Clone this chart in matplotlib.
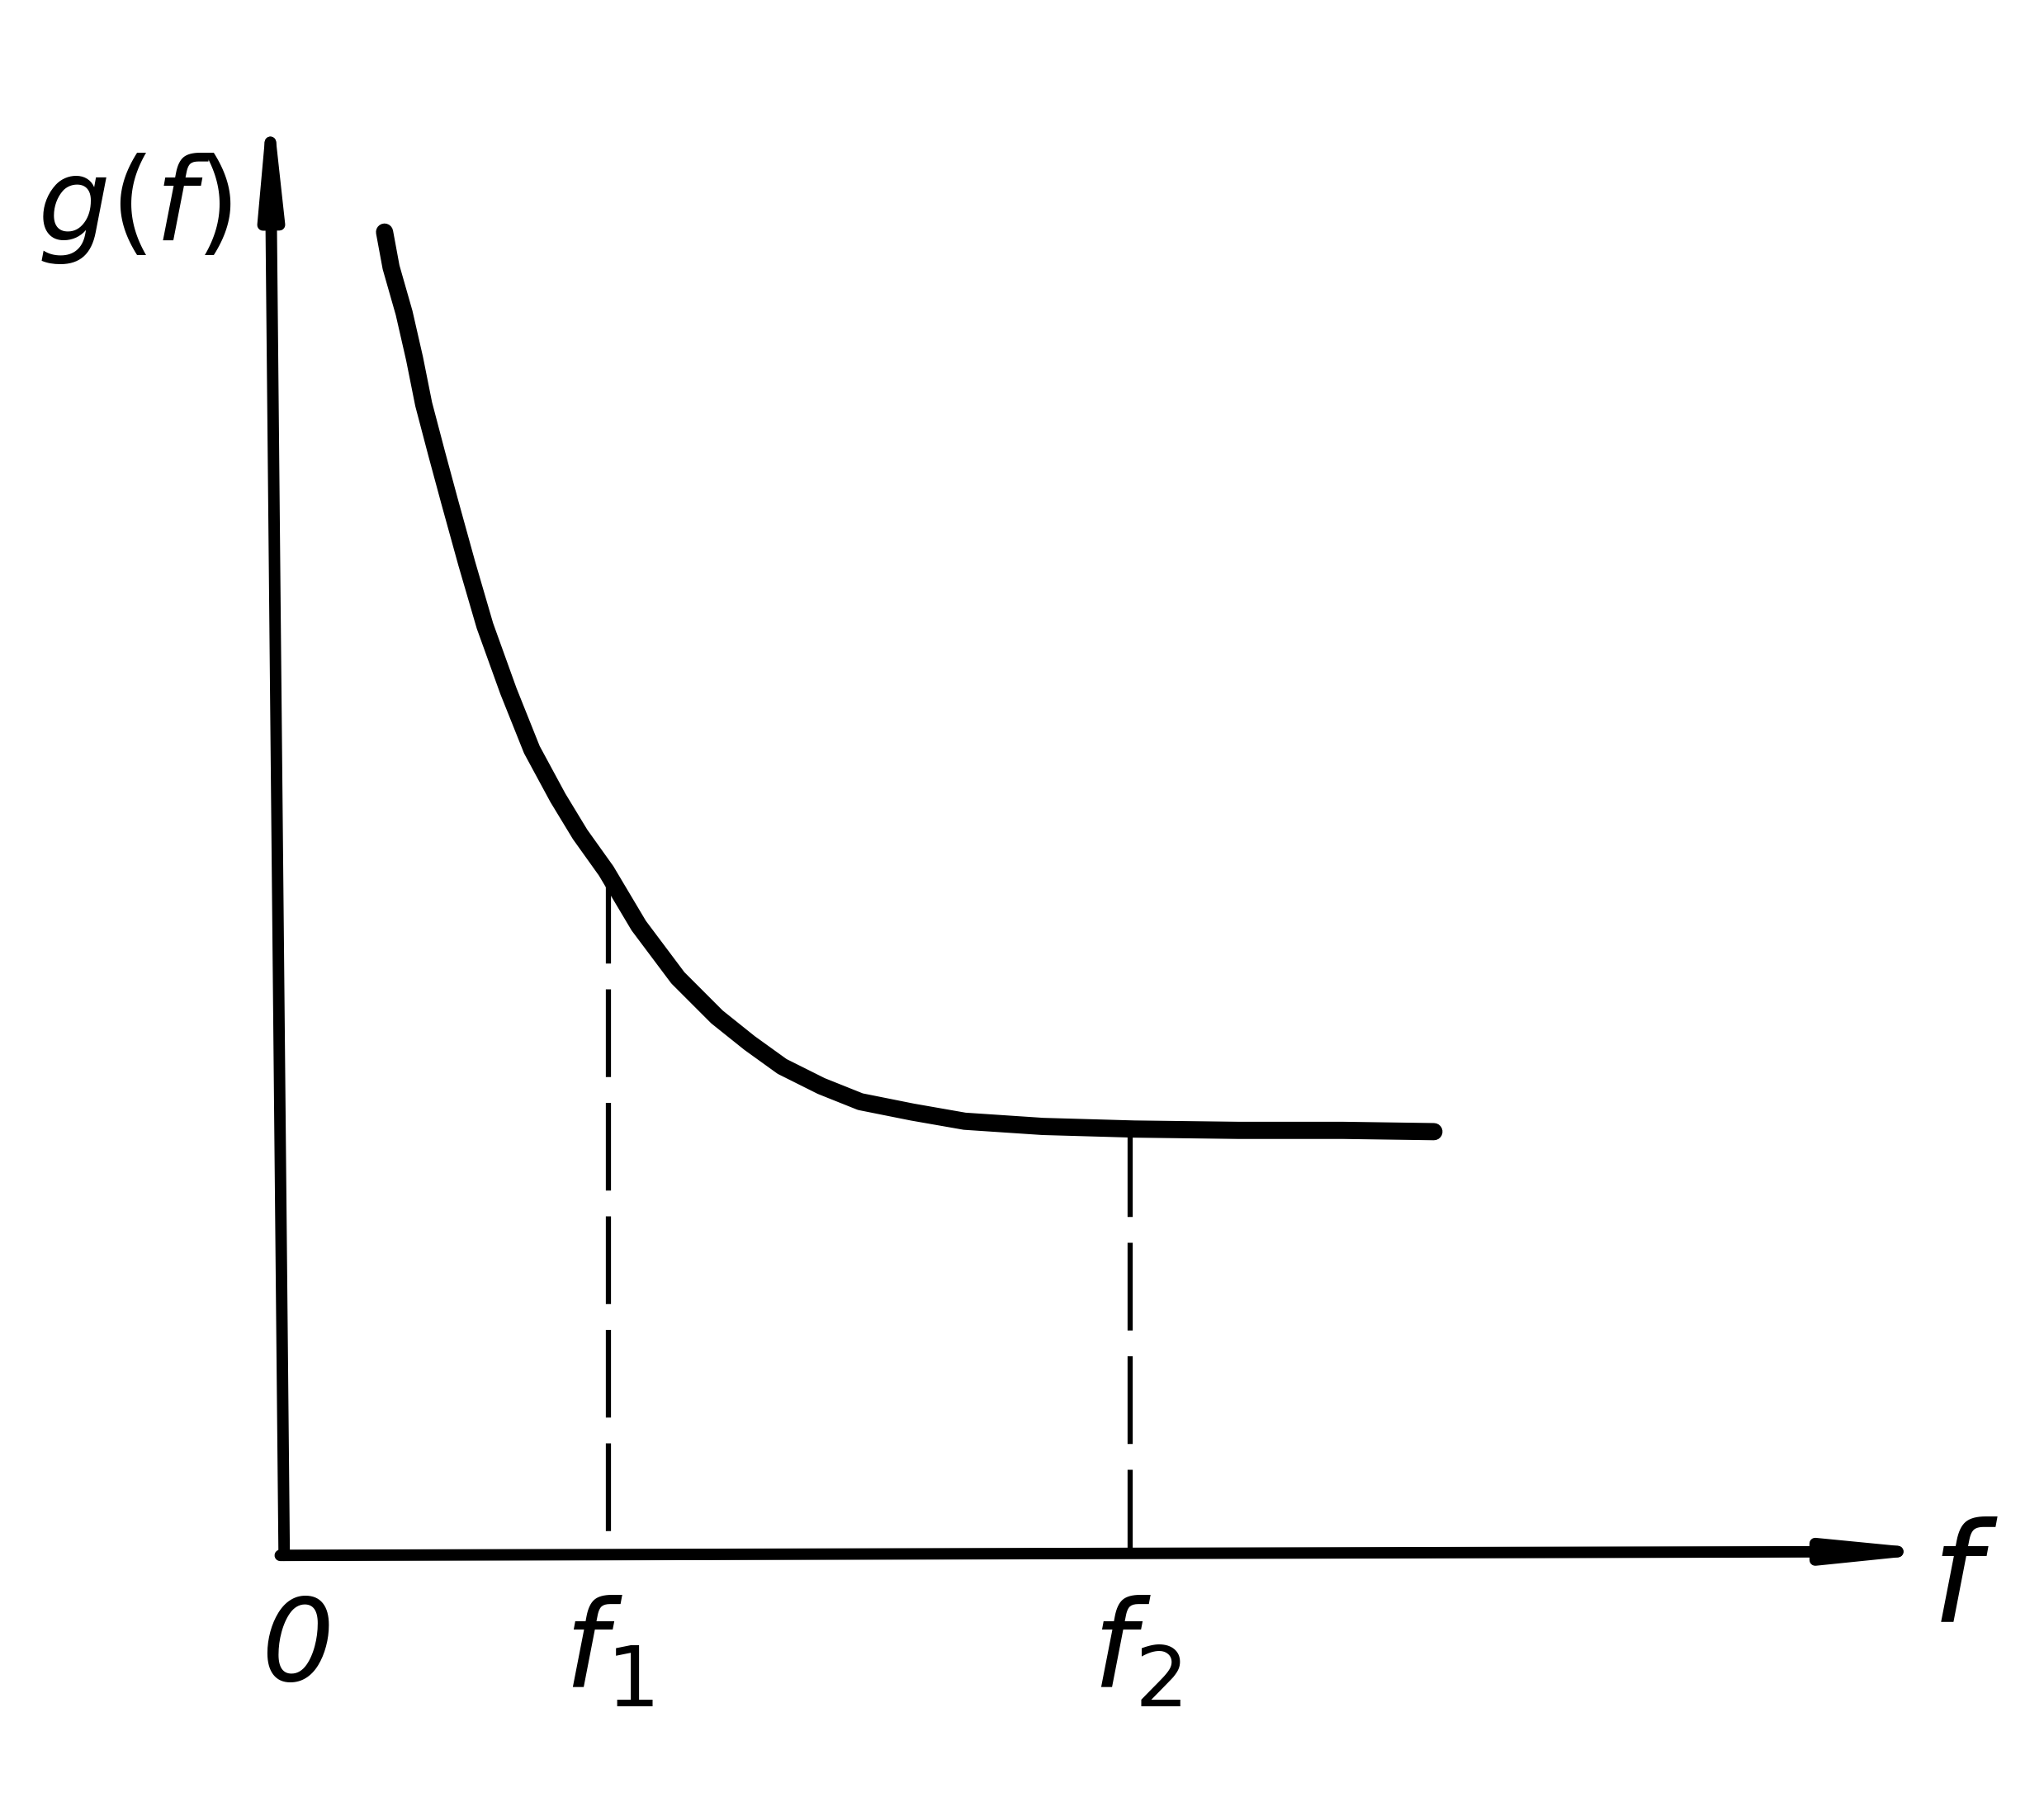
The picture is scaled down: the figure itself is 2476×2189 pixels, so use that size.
import matplotlib.pyplot as plt

# curve g(f)
f_vals = [80, 85, 95, 103, 110, 120, 130, 143, 157, 175, 193, 213, 230, 250,
          275, 305, 335, 360, 385, 415, 445, 485, 525, 585, 655, 735, 815, 885]
g_vals = [1012, 985, 950, 915, 880, 842, 805, 758, 710, 660, 615, 578, 550, 522,
          480, 440, 410, 390, 372, 357, 345, 337, 330, 326, 324, 323, 323, 322]

f1 = 252
f2 = 652
g_f1 = 518
g_f2 = 324

fig = plt.figure(figsize=(24.76, 21.89), dpi=100)
ax = fig.add_axes([0, 0, 1, 1])
ax.set_xlim(-215, 1353)
ax.set_ylim(-196, 1190)
ax.axis('off')

# axes with arrows
arrow = dict(arrowstyle='-|>,head_length=1.2,head_width=0.12', lw=10, color='black',
             mutation_scale=60, shrinkA=0, shrinkB=0, capstyle='round')
ax.annotate('', xy=(-8, 1125), xytext=(3, -3), arrowprops=arrow)
ax.annotate('', xy=(1285, 0), xytext=(0, -3), arrowprops=arrow)

# curve
ax.plot(f_vals, g_vals, color='black', lw=15, solid_capstyle='round', solid_joinstyle='round')

# dashed guides, drawn from the curve down
ax.plot([f1, f1], [g_f1, 0], color='black', lw=4.5, dashes=(17, 5))
ax.plot([f2, f2], [g_f2, 0], color='black', lw=4.5, dashes=(17, 5))

# labels
ax.text(-112, 1030, '$g(f)$', ha='center', va='center', fontsize=100)
ax.text(13, -75, '0', ha='center', va='center', fontsize=100, style='italic')
ax.text(f1, -78, '$f_1$', ha='center', va='center', fontsize=105)
ax.text(f2 + 5, -78, '$f_2$', ha='center', va='center', fontsize=105)
ax.text(1292, -25, '$f$', ha='center', va='center', fontsize=120)

fig.savefig('out.png', dpi=100)
